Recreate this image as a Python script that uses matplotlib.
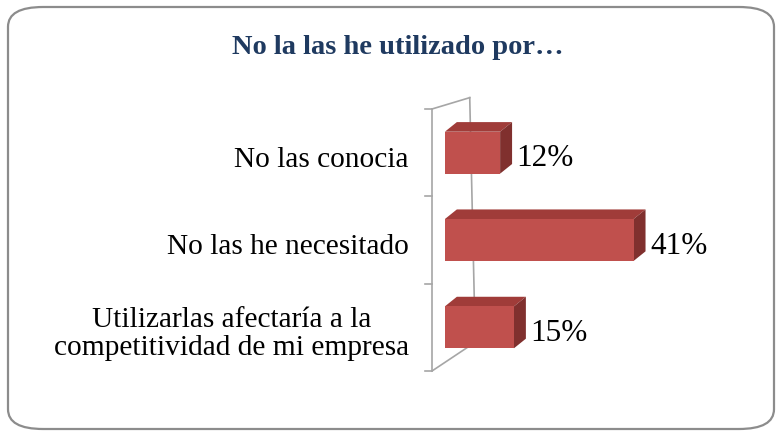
import matplotlib.pyplot as plt
from matplotlib.patches import FancyBboxPatch, Polygon

# datos
categorias = ["No las conocia", "No las he necesitado",
              "Utilizarlas afectaría a la\ncompetitividad de mi empresa"]
valores = [12, 41, 15]
etiquetas = ["12%", "41%", "15%"]
titulo = "No la las he utilizado por…"

fig = plt.figure(figsize=(7.82, 4.39), dpi=100)
W, H = 782, 439

# marco redondeado
marco = FancyBboxPatch((8 / W, 9 / H), 766 / W, 422 / H,
                       boxstyle="round,pad=0,rounding_size=0.045",
                       transform=fig.transFigure, fc="none", ec="#8C8C8C", lw=1.6, zorder=-1)
fig.patches.append(marco)

fig.text(398 / W, 1 - 47 / H, titulo, ha="center", va="center",
         fontsize=20.5, fontweight="bold", color="#1F3A60", family="Liberation Serif")

ax = fig.add_axes([432 / W, 1 - 372 / H, 289 / W, 262 / H])
ax.set_xlim(-2.8, 60)
ax.set_ylim(2.5, -0.5)
ax.axis("off")

pos = list(range(len(valores)))
alto = 0.48
dx, dy = 2.6, 0.11  # profundidad del efecto 3D

# pared (ejes en perspectiva)
gris = "#A6A6A6"
x0, xb = -2.8, 5.4
ax.plot([x0, x0], [-0.5, 2.5], color=gris, lw=1.2, clip_on=False, zorder=1)
ax.plot([xb, xb + 1.2], [-0.63, 2.17], color=gris, lw=1.2, clip_on=False, zorder=1)
ax.plot([x0, xb], [-0.5, -0.63], color=gris, lw=1.2, clip_on=False, zorder=1)
ax.plot([x0, xb + 1.2], [2.5, 2.17], color=gris, lw=1.2, clip_on=False, zorder=1)
for t in [-0.5, 0.5, 1.5, 2.5]:
    ax.plot([x0 - 1.5, x0], [t, t], color=gris, lw=1.2, clip_on=False, zorder=1)

barras = ax.barh(pos, valores, left=0, height=alto, color="#C0504D", zorder=3)
for b, v, lab in zip(barras, valores, etiquetas):
    y_top = b.get_y()
    y_bot = y_top + alto
    # cara superior
    ax.add_patch(Polygon([(0, y_top), (v, y_top), (v + dx, y_top - dy), (dx, y_top - dy)],
                         closed=True, fc="#A03C39", ec="none", zorder=2))
    # cara lateral
    ax.add_patch(Polygon([(v, y_top), (v + dx, y_top - dy), (v + dx, y_bot - dy), (v, y_bot)],
                         closed=True, fc="#80302E", ec="none", zorder=2))
    ax.text(v + dx + 1.0, b.get_y() + alto / 2 + 0.06, lab, ha="left", va="center",
            fontsize=22.5, family="Liberation Serif", color="black")

for p, c in zip(pos, categorias):
    ax.text(x0 - 5, p + 0.07, c, ha="right", va="center", multialignment="center",
            fontsize=21.2, family="Liberation Serif", color="black", linespacing=1.1)

fig.savefig("out.png", dpi=100)
